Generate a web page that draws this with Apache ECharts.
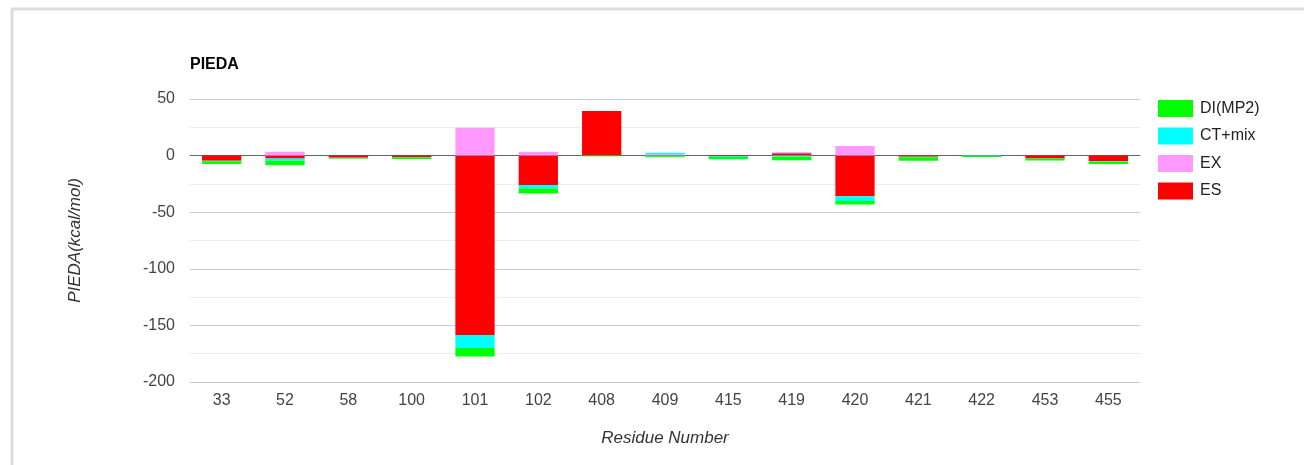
<!DOCTYPE html>
<html>
<head>
<meta charset="utf-8">
<script src="https://cdn.jsdelivr.net/npm/echarts@6/dist/echarts.min.js"></script>
<style>
html,body{margin:0;padding:0;background:#fff;}
#chart{width:1304px;height:465px;}
</style>
</head>
<body>
<div id="chart"></div>
<script>
const categories = ['33','52','58','100','101','102','408','409','415','419','420','421','422','453','455'];
const seriesNames = ['DI(MP2)','CT+mix','EX','ES'];
const DI = [-2.5, -4, -0.5, -1.5, -7.5, -4.5, -0.5, -1, -2, -3, -3, -3, -1, -1.5, -2];
const CT = [-0.5, -2, -0.3, -0.3, -11.5, -3, 0, 1.5, -1, -1, -4.4, -0.5, -0.3, -0.3, -0.5];
const EX = [0, 3.4, 0, 0, 24.5, 3.4, 0, 1, 0, 1, 8.4, 0, 0, 0, 0];
const ES = [-4.5, -2.5, -2, -1.2, -158.5, -26, 39.5, -0.5, -0.3, 2, -35.8, -1, 0, -2.5, -5];
const colors = {'DI(MP2)':'#00ff00','CT+mix':'#00ffff','EX':'#ff99ff','ES':'#ff0000'};

const font = '"Liberation Sans", Arial, sans-serif';
const chart = echarts.init(document.getElementById('chart'));
function bar(name, data){
  return {name:name, type:'bar', stack:'total', data:data, barWidth:'62%',
    itemStyle:{color:colors[name]}, emphasis:{disabled:true}};
}
chart.setOption({
  animation:false,
  textStyle:{fontFamily:font},
  graphic:[
    {type:'line', shape:{x1:11,y1:9,x2:1304,y2:9}, style:{stroke:'#dcdcdc', lineWidth:3}},
    {type:'line', shape:{x1:12,y1:8,x2:12,y2:465}, style:{stroke:'#dcdcdc', lineWidth:3}}
  ],
  title:{text:'PIEDA', left:185, top:52, textStyle:{fontFamily:font, fontSize:16, fontWeight:'bold', color:'#000'}},
  legend:{orient:'vertical', left:1153, top:95, itemWidth:35, itemHeight:17, itemGap:10.5,
    data:seriesNames, icon:'rect',
    textStyle:{fontFamily:font, fontSize:16, color:'#222', padding:[0,0,0,2]}},
  grid:{left:190, right:164, top:99, bottom:83},
  xAxis:{type:'category', data:categories,
    name:'Residue Number', nameLocation:'middle', nameGap:48,
    nameTextStyle:{fontFamily:font, fontSize:17, fontStyle:'italic', color:'#333'},
    axisLine:{onZero:true, lineStyle:{color:'#666', width:1}},
    axisTick:{show:false},
    axisLabel:{fontFamily:font, fontSize:16, color:'#444', margin:11}},
  yAxis:{type:'value', min:-200, max:50, interval:50,
    name:'PIEDA(kcal/mol)', nameLocation:'middle', nameGap:106,
    nameTextStyle:{fontFamily:font, fontSize:17, fontStyle:'italic', color:'#333'},
    axisLine:{show:false}, axisTick:{show:false},
    axisLabel:{fontFamily:font, fontSize:16, color:'#444', margin:15},
    splitLine:{lineStyle:{color:'#cccccc'}},
    minorTick:{show:false, splitNumber:2},
    minorSplitLine:{show:true, lineStyle:{color:'#ebebeb'}}},
  series:[bar('ES',ES), bar('EX',EX), bar('CT+mix',CT), bar('DI(MP2)',DI)]
});
</script>
</body>
</html>
